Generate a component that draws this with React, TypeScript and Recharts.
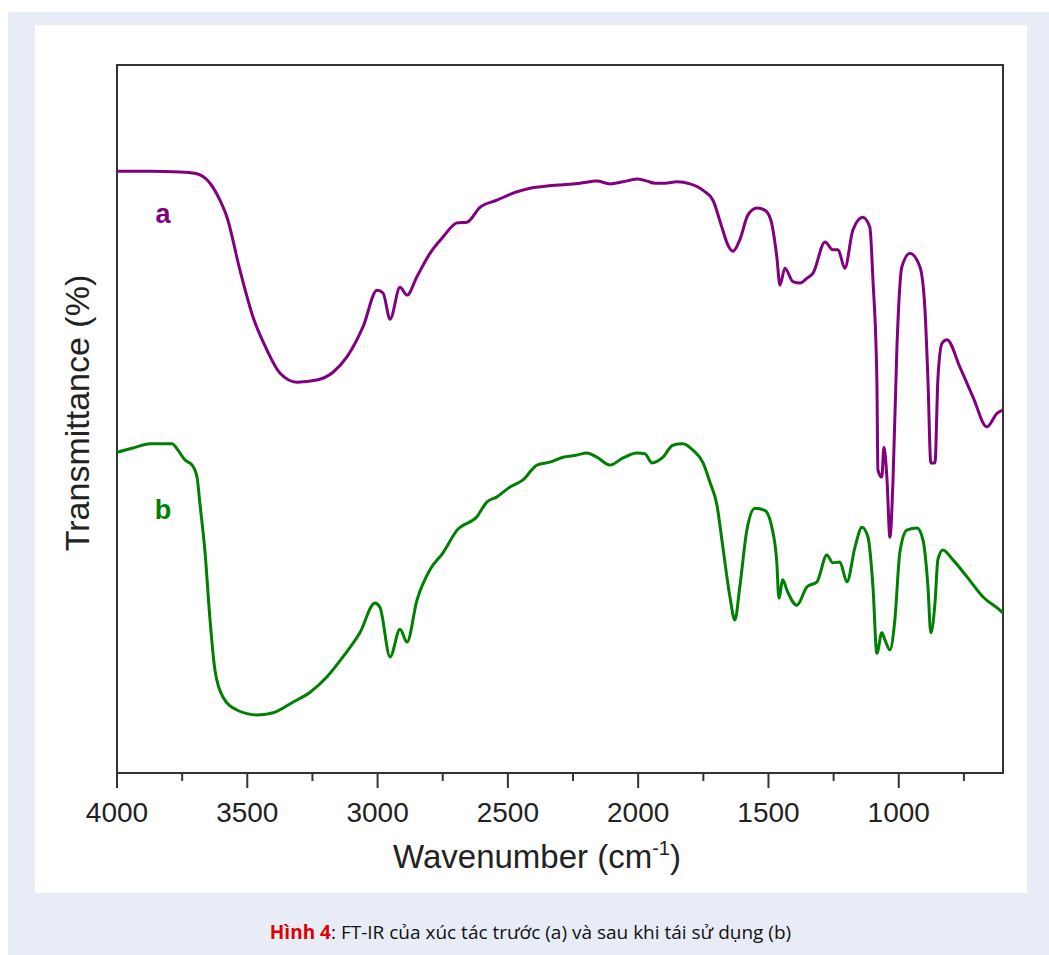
import React from 'react';
import { LineChart, Line, XAxis, YAxis, ReferenceDot, ReferenceArea } from 'recharts';

// Wavenumber (cm-1) and transmittance (%)
const wavenumberA = [4000,3873,3758,3701,3643,3605,3578,3528,3478,3424,3375,3309,3233,3171,3117,3056,3002,2979,2952,2914,2887,2849,2799,2749,2695,2657,2607,2542,2480,2415,2350,2289,2223,2158,2108,2058,2005,1966,1936,1897,1851,1801,1751,1713,1679,1656,1636,1610,1579,1544,1514,1491,1468,1456,1437,1406,1379,1352,1329,1283,1253,1233,1207,1176,1138,1111,1099,1084,1080,1065,1057,1045,1034,1022,1007,988,957,919,900,888,877,861,850,834,815,765,715,662,623,600];
const transmittanceA = [85.0,85.0,84.9,84.7,83.3,80.9,78.5,71.0,64.4,59.7,56.5,55.2,55.5,56.6,58.8,63.0,68.2,67.8,64.1,68.6,67.5,70.1,73.4,75.7,77.7,77.8,79.9,80.9,81.9,82.6,82.9,83.1,83.3,83.6,83.2,83.5,83.9,83.6,83.3,83.3,83.5,83.2,82.3,80.9,77.1,74.6,73.7,75.3,78.8,79.8,79.5,78.1,72.9,68.9,71.3,69.4,69.2,69.9,70.6,75.0,73.9,73.9,71.3,76.7,78.5,77.1,69.6,55.5,42.8,41.8,46.0,41.4,33.3,41.4,60.2,71.5,73.4,71.5,65.8,55.5,43.8,43.8,55.5,60.7,61.2,57.3,53.1,48.9,50.8,51.3];

const wavenumberB = [4000,3939,3873,3816,3789,3766,3739,3712,3693,3682,3662,3643,3624,3593,3540,3463,3401,3325,3259,3194,3133,3068,3010,2991,2952,2914,2887,2849,2799,2749,2695,2619,2580,2542,2492,2442,2388,2339,2289,2235,2197,2158,2108,2058,2005,1974,1947,1905,1867,1828,1790,1751,1725,1698,1675,1648,1629,1610,1583,1552,1514,1487,1468,1460,1445,1429,1391,1352,1314,1276,1253,1226,1199,1168,1141,1118,1099,1084,1065,1053,1034,1015,996,969,930,907,888,877,861,850,831,792,738,677,612,600];
const transmittanceB = [45.3,45.9,46.5,46.5,46.5,45.6,44.2,43.5,41.8,38.1,31.1,21.6,14.5,10.7,8.9,8.2,8.5,10.0,11.4,13.6,16.4,19.8,24.0,23.4,16.4,20.3,18.5,24.4,28.7,31.1,34.3,36.2,38.3,39.0,40.4,41.4,43.5,43.9,44.6,44.9,45.2,44.6,43.5,44.5,45.2,45.1,43.8,44.6,46.3,46.5,45.6,43.8,41.1,37.9,31.9,24.9,21.6,26.3,34.3,37.4,37.1,34.7,29.7,24.7,27.3,25.8,23.7,26.3,27.0,30.8,29.7,29.8,27.0,31.9,34.7,33.3,26.3,16.9,19.8,18.8,17.4,21.6,31.1,34.3,34.6,32.9,26.3,19.8,24.0,30.1,31.5,30.1,27.7,24.9,23.0,22.6];

const xTicks = [4000,3750,3500,3250,3000,2750,2500,2250,2000,1750,1500,1250,1000,750];
const xDomain = [600, 4000];
const yDomain = [0, 100];
const seriesLabels = [
  { name: 'a', w: 3823, t: 79.1, color: '#800080' },
  { name: 'b', w: 3823, t: 37.3, color: '#008000' },
];

const dataA = wavenumberA.map((w, i) => ({ w, t: transmittanceA[i] }));
const dataB = wavenumberB.map((w, i) => ({ w, t: transmittanceB[i] }));

const FONT = 'Liberation Sans, Arial, Helvetica, sans-serif';
const AXIS = '#333333';

const XTick = (props: any) => {
  const { x, y, payload } = props;
  const major = payload.value % 500 === 0;
  return (
    <g>
      <line x1={x} x2={x} y1={y} y2={y + (major ? 15 : 8)} stroke={AXIS} strokeWidth={2} />
      {major && (
        <text x={x} y={y + 49} textAnchor="middle" fontSize={28} fill="#222" fontFamily={FONT}>
          {payload.value}
        </text>
      )}
    </g>
  );
};

const Titles = () => (
  <g>
    <text x={358} y={843} fontSize={33} fill="#222" fontFamily={FONT}>
      Wavenumber (cm
      <tspan fontSize={20} dy={-13}>-1</tspan>
      <tspan fontSize={33} dy={13}>)</tspan>
    </text>
    <text transform="translate(54,388) rotate(-90)" textAnchor="middle" fontSize={34} fill="#222" fontFamily={FONT}>
      Transmittance (%)
    </text>
  </g>
);

export default function App() {
  return (
    <div style={{ position: 'fixed', left: 8, top: 12, right: 0, bottom: 0, background: '#e8ecf6' }}>
      <div style={{ position: 'absolute', left: 27, top: 13, width: 992, height: 868, background: '#ffffff' }}>
        <LineChart width={992} height={868} margin={{ top: 40, right: 24, left: 82, bottom: 0 }}>
          <XAxis
            type="number"
            dataKey="w"
            domain={xDomain}
            reversed
            allowDataOverflow
            ticks={xTicks}
            interval={0}
            height={120}
            tickSize={0}
            tickMargin={0}
            tickLine={false}
            axisLine={{ stroke: AXIS, strokeWidth: 2 }}
            tick={<XTick />}
            label={<Titles />}
          />
          <YAxis type="number" domain={yDomain} width={0} hide />
          <ReferenceArea
            x1={xDomain[1]}
            x2={xDomain[0]}
            y1={yDomain[0]}
            y2={yDomain[1]}
            fill="none"
            fillOpacity={0}
            stroke={AXIS}
            strokeWidth={2}
          />
          <Line data={dataA} dataKey="t" type="monotone" stroke="#800080" strokeWidth={3} dot={false} isAnimationActive={false} />
          <Line data={dataB} dataKey="t" type="monotone" stroke="#008000" strokeWidth={3} dot={false} isAnimationActive={false} />
          {seriesLabels.map((s) => (
            <ReferenceDot
              key={s.name}
              x={s.w}
              y={s.t}
              r={0}
              stroke="none"
              fill="none"
              label={{ value: s.name, position: 'center', fill: s.color, fontSize: 27, fontWeight: 'bold', fontFamily: FONT }}
            />
          ))}
        </LineChart>
      </div>
      <div
        style={{
          position: 'absolute',
          left: 0,
          right: 0,
          top: 908,
          textAlign: 'center',
          paddingLeft: 4,
          fontFamily: '"Open Sans", "Noto Sans", sans-serif',
          fontSize: 19,
          lineHeight: '24px',
          color: '#111',
        }}
      >
        <span style={{ color: '#e00000', fontWeight: 'bold' }}>Hình 4</span>: FT-IR của xúc tác trước (a) và sau khi tái sử dụng (b)
      </div>
    </div>
  );
}
